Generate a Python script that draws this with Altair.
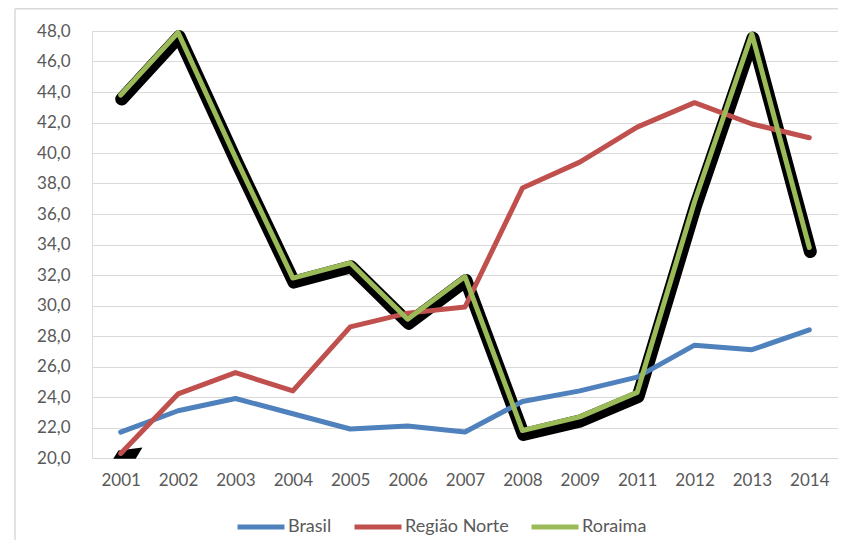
import altair as alt
import pandas as pd

years = ["2001", "2002", "2003", "2004", "2005", "2006", "2007",
         "2008", "2009", "2011", "2012", "2013", "2014"]
brasil = [21.7, 23.1, 23.9, 22.9, 21.9, 22.1, 21.7, 23.7, 24.4, 25.3, 27.4, 27.1, 28.4]
norte = [20.3, 24.2, 25.6, 24.4, 28.6, 29.5, 29.9, 37.7, 39.4, 41.7, 43.3, 41.9, 41.0]
roraima = [43.8, 47.9, 39.7, 31.8, 32.8, 29.1, 31.9, 21.8, 22.7, 24.3, 36.8, 47.8, 33.8]
series_names = ["Brasil", "Região Norte", "Roraima"]
series_colors = ["#4f81bd", "#c0504d", "#9bbb59"]
blob_year = ["2001"]
blob_value = [20.3]

rows = []
for name, vals in zip(series_names, [brasil, norte, roraima]):
    for y, v in zip(years, vals):
        rows.append({"ano": y, "valor": v, "serie": name})
df = pd.DataFrame(rows)
df_ror = df[df["serie"] == "Roraima"]
df_blob = pd.DataFrame({"ano": blob_year, "valor": blob_value})

FONT = "Lato"
GRAY = "#595959"

x_enc = alt.X("ano:N", sort=years, title=None,
              scale=alt.Scale(type="point", padding=0.5),
              axis=alt.Axis(labelAngle=0, labelFont=FONT, labelFontSize=17,
                            labelColor=GRAY, ticks=False, tickSize=0, domain=False,
                            grid=False, labelPadding=14, labelOverlap=False))
y_enc = alt.Y("valor:Q", title=None,
              scale=alt.Scale(domain=[20, 48], nice=False, zero=False),
              axis=alt.Axis(values=list(range(20, 49, 2)), labelFont=FONT,
                            labelFontSize=17, labelColor=GRAY, ticks=False,
                            tickSize=0, domain=False, grid=True, labelOverlap=False,
                            gridColor="#d9d9d9", gridWidth=1.2, labelPadding=22,
                            labelExpr="replace(format(datum.value, '.1f'), '.', ',')"))

shadow = alt.Chart(df_ror).mark_line(
    color="black", strokeWidth=13, strokeCap="round", strokeJoin="round",
    yOffset=4, xOffset=1
).encode(x=x_enc, y=y_enc)

blob = alt.Chart(df_blob).mark_point(
    shape="M -0.5 0.35 L -0.15 -0.2 L 1.45 -0.4 L 1.0 0.35 Z",
    size=900, filled=True, color="black", opacity=1
).encode(x=x_enc, y=y_enc)

lines = alt.Chart(df).mark_line(
    strokeWidth=5, strokeCap="round", strokeJoin="round"
).encode(
    x=x_enc, y=y_enc,
    color=alt.Color("serie:N", sort=series_names,
                    scale=alt.Scale(domain=series_names, range=series_colors),
                    legend=alt.Legend(title=None, orient="none", direction="horizontal",
                                      legendX=143, legendY=470,
                                      symbolType="stroke", symbolStrokeWidth=5,
                                      symbolSize=2209, labelFont=FONT,
                                      labelFontSize=18, labelColor=GRAY,
                                      labelOffset=1, columnPadding=12)),
    order=alt.Order("serie:N")
)

border_left = alt.Chart().mark_rule(color="#d9d9d9", strokeWidth=1.5).encode(
    x=alt.value(-77), y=alt.value(-22), y2=alt.value(700))
border_top = alt.Chart().mark_rule(color="#d9d9d9", strokeWidth=1.5).encode(
    x=alt.value(-77), x2=alt.value(900), y=alt.value(-22.3))

chart = alt.layer(border_left, border_top, shadow, blob, lines).properties(
    width=746, height=427,
    autosize=alt.AutoSizeParams(type="none"),
    padding={"left": 84, "top": 23, "right": 0, "bottom": 82},
).configure_view(stroke=None).configure(background="white")

chart.save("out.html", embed_options={"renderer": "svg", "actions": False})
